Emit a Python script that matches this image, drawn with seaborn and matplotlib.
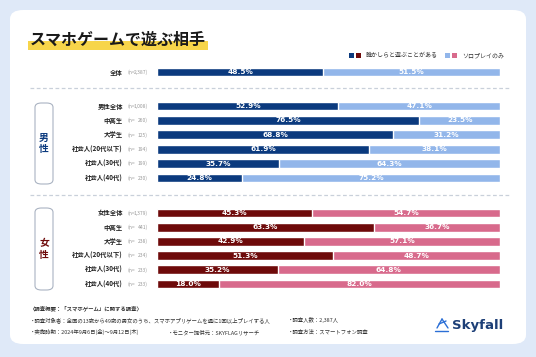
import matplotlib
matplotlib.use("Agg")
import matplotlib.pyplot as plt
import seaborn as sns
from matplotlib.patches import FancyBboxPatch, Rectangle
from matplotlib.lines import Line2D

# ---- data ----
all_label = ["全体"]
all_n = [2387]
all_group = [48.5]
all_solo = [51.5]

male_labels = ["男性全体", "中高生", "大学生", "社会人(20代以下)", "社会人(30代)", "社会人(40代)"]
male_n = [1008, 260, 125, 194, 199, 230]
male_group = [52.9, 76.5, 68.8, 61.9, 35.7, 24.8]
male_solo = [47.1, 23.5, 31.2, 38.1, 64.3, 75.2]

female_labels = ["女性全体", "中高生", "大学生", "社会人(20代以下)", "社会人(30代)", "社会人(40代)"]
female_n = [1379, 441, 238, 234, 233, 233]
female_group = [45.3, 63.3, 42.9, 51.3, 35.2, 18.0]
female_solo = [54.7, 36.7, 57.1, 48.7, 64.8, 82.0]

legend_labels = ["誰かしらと遊ぶことがある", "ソロプレイのみ"]

BLUE_D, BLUE_L = "#0b3a7e", "#92b6ea"
RED_D, RED_L = "#6e0a0a", "#d86a8c"
BG = "#dfe9f8"

sns.set_style("white")
plt.rcParams["font.family"] = ["Noto Sans CJK JP", "DejaVu Sans"]

W, H = 536, 357
fig = plt.figure(figsize=(W / 100, H / 100), dpi=100, facecolor=BG)


def fx(x):
    return x / W


def fy(y):
    return 1 - y / H


# white card (behind everything)
fig.patches.append(FancyBboxPatch((fx(10), fy(344)), fx(516), 334 / H,
                                  boxstyle="round,pad=0,rounding_size=0.025",
                                  transform=fig.transFigure, fc="white", ec="none",
                                  zorder=-10))

# title with yellow marker
fig.patches.append(Rectangle((fx(28), fy(50)), fx(180), 9 / H, transform=fig.transFigure,
                             fc="#f7d54a", ec="none", zorder=-5))
fig.text(fx(30), fy(40), "スマホゲームで遊ぶ相手", fontsize=11.5, fontweight="bold",
         color="#1a1a1a", va="center", ha="left")

# legend
for i, c in enumerate([BLUE_D, RED_D]):
    fig.patches.append(Rectangle((fx(349 + i * 7), fy(58)), fx(5), 5 / H,
                                 transform=fig.transFigure, fc=c, ec="none"))
fig.text(fx(366), fy(55.5), legend_labels[0], fontsize=4.3, va="center", color="#333")
for i, c in enumerate([BLUE_L, RED_L]):
    fig.patches.append(Rectangle((fx(445 + i * 7), fy(58)), fx(5), 5 / H,
                                 transform=fig.transFigure, fc=c, ec="none"))
fig.text(fx(462), fy(55.5), legend_labels[1], fontsize=4.3, va="center", color="#333")


def draw_block(top, bottom, labels, ns, group, solo, dark, light):
    ax = fig.add_axes([fx(157), fy(bottom), fx(343), (bottom - top) / H])
    totals = [g + s for g, s in zip(group, solo)]
    sns.barplot(x=totals, y=labels, color=light, saturation=1, width=0.62, ax=ax, orient="h")
    sns.barplot(x=group, y=labels, color=dark, saturation=1, width=0.62, ax=ax, orient="h")
    ax.set_xlim(0, 100)
    ax.set_ylim(len(labels) - 0.5, -0.5)
    ax.axis("off")
    for i, (g, s) in enumerate(zip(group, solo)):
        ax.text(g / 2, i, f"{g:.1f}%", ha="center", va="center", color="white",
                fontsize=5.3, fontweight="bold", family="DejaVu Sans")
        ax.text(g + s / 2, i, f"{s:.1f}%", ha="center", va="center", color="white",
                fontsize=5.3, fontweight="bold", family="DejaVu Sans")
    step = (bottom - top) / len(labels)
    for i, (lab, n) in enumerate(zip(labels, ns)):
        yy = top + step * (i + 0.5)
        fig.text(fx(123), fy(yy), lab, ha="right", va="center", fontsize=4.6,
                 fontweight="bold", color="#222")
        fig.text(fx(127), fy(yy), "(n=", ha="left", va="center", fontsize=3.6,
                 color="#999")
        fig.text(fx(148), fy(yy), f"{n:,})", ha="right", va="center", fontsize=3.6,
                 color="#999")
    return ax


draw_block(65, 79, all_label, all_n, all_group, all_solo, BLUE_D, BLUE_L)
draw_block(98.8, 185.2, male_labels, male_n, male_group, male_solo, BLUE_D, BLUE_L)
draw_block(205.9, 291.1, female_labels, female_n, female_group, female_solo, RED_D, RED_L)

# dashed separators
for yy in [88, 195]:
    fig.lines.append(Line2D([fx(30), fx(510)], [fy(yy), fy(yy)], transform=fig.transFigure,
                            color="#c9d0da", lw=0.9, ls=(0, (3, 2))))

# group boxes
for top, bot, txt, col in [(103, 184, "男\n性", BLUE_D), (208, 290, "女\n性", RED_D)]:
    fig.patches.append(FancyBboxPatch((fx(35), fy(bot)), fx(18), (bot - top) / H,
                                      boxstyle="round,pad=0,rounding_size=0.012",
                                      transform=fig.transFigure, fc="white",
                                      ec="#aab3c2", lw=0.8))
    fig.text(fx(44), fy((top + bot) / 2), txt, ha="center", va="center", fontsize=7,
             fontweight="bold", color=col, linespacing=1.2)

# footer
foot = dict(fontsize=3.9, color="#333", va="center")
fig.text(fx(30), fy(308), "〈調査概要：「スマホゲーム」に関する調査〉", fontweight="bold", **foot)
fig.text(fx(30), fy(320), "・調査対象者：全国の13歳から49歳の男女のうち、スマホアプリゲームを週に1回以上プレイする人", **foot)
fig.text(fx(30), fy(332), "・実施時期：2024年9月6日(金)〜9月12日(木)", **foot)
fig.text(fx(168), fy(332), "・モニター提供元：SKYFLAGリサーチ", **foot)
fig.text(fx(288), fy(320), "・調査人数：2,387人", **foot)
fig.text(fx(288), fy(332), "・調査方法：スマートフォン調査", **foot)

# logo
fig.text(fx(452), fy(325), "Skyfall", fontsize=9.5, fontweight="bold", color="#1d3f77",
         va="center", ha="left", family="DejaVu Sans")
for xs, ys in [([435, 448], [331, 331]), ([437, 442], [328, 319]), ([442, 448], [319, 328]),
               ([439, 446], [324, 321])]:
    fig.lines.append(Line2D([fx(x) for x in xs], [fy(y) for y in ys], transform=fig.transFigure,
                            color="#2b6fd6", lw=1.0))

fig.savefig("out.png", dpi=100, facecolor=BG)
